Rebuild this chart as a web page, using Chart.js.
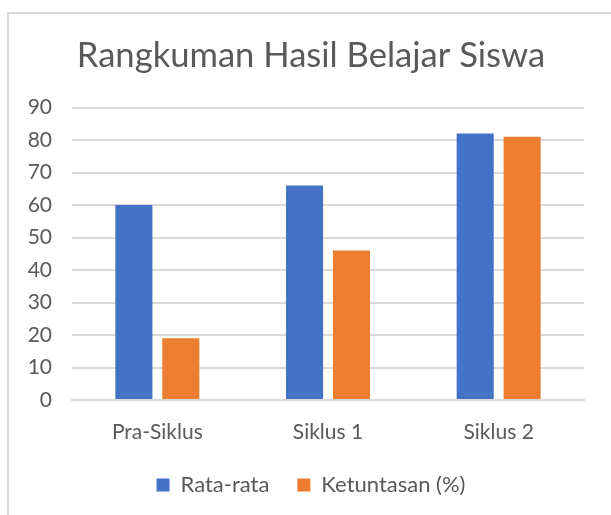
<!DOCTYPE html>
<html>
<head>
<meta charset="utf-8">
<script src="https://cdn.jsdelivr.net/npm/chart.js@4/dist/chart.umd.min.js"></script>
<style>
  body { margin: 0; background: #fff; overflow: hidden; }
  #frame { position: absolute; left: 7px; top: 12px; width: 640px; height: 540px; border: 2px solid #d9d9d9; }
  #wrap { position: absolute; left: 0; top: 0; width: 611px; height: 515px; }
</style>
</head>
<body>
<div id="frame"></div>
<div id="wrap"><canvas id="bar"></canvas></div>
<script>
const categories = ["Pra-Siklus", "Siklus 1", "Siklus 2"];
const rataRata = [60, 66, 82];
const ketuntasan = [19, 46, 81];
const seriesNames = ["Rata-rata", "Ketuntasan (%)"];
const yTicks = [0, 10, 20, 30, 40, 50, 60, 70, 80, 90];

const teks = "#595959";
const font = "Lato, 'Open Sans', sans-serif";

// label axis jangan di-clip ke kotak skala
function noClip(scale) { scale._computeLabelArea = function () { return undefined; }; }

document.addEventListener("DOMContentLoaded", function () {
    let ctx = document.getElementById("bar").getContext("2d");
    new Chart(ctx, {
        type: "bar",
        data: {
            labels: categories,
            datasets: [
                { label: seriesNames[0], data: rataRata, backgroundColor: "#4472C4" },
                { label: seriesNames[1], data: ketuntasan, backgroundColor: "#ED7D31" }
            ]
        },
        options: {
            responsive: true,
            maintainAspectRatio: false,
            animation: false,
            categoryPercentage: 0.55,
            barPercentage: 0.79,
            layout: { padding: { left: 38, right: 27, top: 0, bottom: 9 } },
            plugins: {
                title: {
                    display: true,
                    text: "Rangkuman Hasil Belajar Siswa",
                    color: teks,
                    font: { family: font, size: 34.6, weight: "normal" },
                    padding: { top: 35, bottom: 31 }
                },
                legend: {
                    position: "bottom",
                    labels: {
                        color: teks,
                        font: { family: font, size: 22 },
                        boxWidth: 13,
                        boxHeight: 13,
                        padding: 28
                    }
                },
                tooltip: { enabled: false }
            },
            scales: {
                x: {
                    afterFit: function (scale) { scale.height = 46; noClip(scale); },
                    grid: { display: false, drawTicks: false },
                    border: { display: true, color: "#d9d9d9", width: 2 },
                    ticks: { color: teks, font: { family: font, size: 21 }, padding: 20 }
                },
                y: {
                    min: 0,
                    max: 90,
                    afterBuildTicks: function (scale) { scale.ticks = yTicks.map(v => ({ value: v })); },
                    afterFit: function (scale) { scale.width = 34; noClip(scale); },
                    grid: { color: "#d9d9d9", lineWidth: 2, drawTicks: false },
                    border: { display: false },
                    ticks: { color: teks, font: { family: font, size: 21 }, padding: 20 }
                }
            }
        }
    });
});
</script>
</body>
</html>
